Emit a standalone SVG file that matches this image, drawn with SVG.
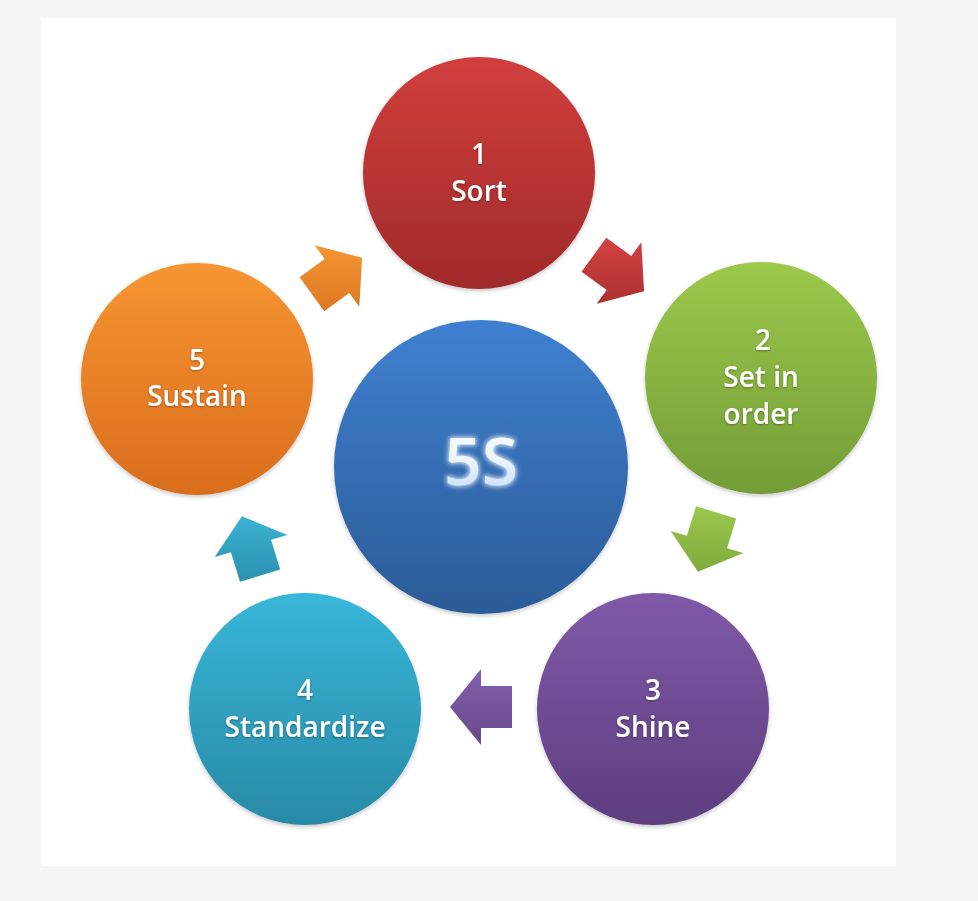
<svg xmlns="http://www.w3.org/2000/svg" width="978" height="901" viewBox="0 0 978 901">
<defs>
<style>
.lbl{font-family:"Open Sans","Liberation Sans",sans-serif;font-size:28px;font-weight:600;fill:#ffffff;text-anchor:middle;filter:url(#tsh)}
.big{font-family:"Open Sans","Liberation Sans",sans-serif;font-size:66px;font-weight:600;text-anchor:middle;fill:url(#gTxt);filter:url(#glow)}
.node circle{filter:url(#sh)}
</style>
<filter id="sh" x="-10%" y="-10%" width="120%" height="125%">
<feDropShadow dx="0" dy="2" stdDeviation="2" flood-color="#000" flood-opacity="0.22"/>
</filter>
<filter id="tsh" x="-10%" y="-20%" width="120%" height="150%">
<feDropShadow dx="0" dy="1" stdDeviation="1" flood-color="#000" flood-opacity="0.35"/>
</filter>
<filter id="glow" x="-30%" y="-30%" width="160%" height="160%">
<feMorphology in="SourceAlpha" operator="dilate" radius="1" result="d"/>
<feGaussianBlur in="d" stdDeviation="2.5" result="b"/>
<feFlood flood-color="#e8f3ff" flood-opacity="0.9"/>
<feComposite in2="b" operator="in" result="g"/>
<feMerge><feMergeNode in="g"/><feMergeNode in="SourceGraphic"/></feMerge>
</filter>
<linearGradient id="gTxt" x1="0" y1="0" x2="0" y2="1"><stop offset="0" stop-color="#ffffff"/><stop offset="0.55" stop-color="#eaf3fd"/><stop offset="1" stop-color="#b9d5f3"/></linearGradient>
<linearGradient id="gRed" x1="0" y1="0" x2="0" y2="1"><stop offset="0" stop-color="#d13e3d"/><stop offset="1" stop-color="#a02a2a"/></linearGradient>
<linearGradient id="gGreen" x1="0" y1="0" x2="0" y2="1"><stop offset="0" stop-color="#9dc84b"/><stop offset="1" stop-color="#739c37"/></linearGradient>
<linearGradient id="gPurple" x1="0" y1="0" x2="0" y2="1"><stop offset="0" stop-color="#8059a8"/><stop offset="1" stop-color="#5d3e7f"/></linearGradient>
<linearGradient id="gTeal" x1="0" y1="0" x2="0" y2="1"><stop offset="0" stop-color="#38b6d9"/><stop offset="1" stop-color="#288aa6"/></linearGradient>
<linearGradient id="gOrange" x1="0" y1="0" x2="0" y2="1"><stop offset="0" stop-color="#f89531"/><stop offset="1" stop-color="#d86d1d"/></linearGradient>
<linearGradient id="gBlue" x1="0" y1="0" x2="0" y2="1"><stop offset="0" stop-color="#3f80d0"/><stop offset="1" stop-color="#2c5b98"/></linearGradient>
<linearGradient id="aRed" gradientUnits="userSpaceOnUse" x1="0" y1="-42" x2="0" y2="42" gradientTransform="rotate(-36)"><stop offset="0" stop-color="#d64443"/><stop offset="1" stop-color="#a62e2e"/></linearGradient>
<linearGradient id="aGreen" gradientUnits="userSpaceOnUse" x1="0" y1="-42" x2="0" y2="42" gradientTransform="rotate(-107)"><stop offset="0" stop-color="#9fca4e"/><stop offset="1" stop-color="#79a63b"/></linearGradient>
<linearGradient id="aPurple" gradientUnits="userSpaceOnUse" x1="0" y1="-42" x2="0" y2="42" gradientTransform="rotate(-180)"><stop offset="0" stop-color="#8563ae"/><stop offset="1" stop-color="#664689"/></linearGradient>
<linearGradient id="aTeal" gradientUnits="userSpaceOnUse" x1="0" y1="-42" x2="0" y2="42" gradientTransform="rotate(107)"><stop offset="0" stop-color="#3cb9db"/><stop offset="1" stop-color="#2a8dab"/></linearGradient>
<linearGradient id="aOrange" gradientUnits="userSpaceOnUse" x1="0" y1="-42" x2="0" y2="42" gradientTransform="rotate(36)"><stop offset="0" stop-color="#f89a37"/><stop offset="1" stop-color="#dc7522"/></linearGradient>
<path id="arr" d="M-31,-21 L0,-21 L0,-38 L31,0 L0,38 L0,21 L-31,21 Z"/>
</defs>
<rect x="0" y="0" width="978" height="901" fill="#f5f5f5"/>
<rect x="41" y="18" width="855" height="848" fill="#ffffff"/>
<g id="connectors">
<use href="#arr" fill="url(#aRed)" transform="translate(619,273) rotate(36)"/>
<use href="#arr" fill="url(#aGreen)" transform="translate(707,542) rotate(107)"/>
<use href="#arr" fill="url(#aPurple)" transform="translate(481,707) rotate(180)"/>
<use href="#arr" fill="url(#aTeal)" transform="translate(251,546) rotate(-107)"/>
<use href="#arr" fill="url(#aOrange)" transform="translate(337,276) rotate(-36)"/>
</g>
<g id="n1" class="node"><circle cx="479" cy="173" r="116" fill="url(#gRed)"/><text class="lbl" x="479" y="164">1</text><text class="lbl" x="479" y="201">Sort</text></g>
<g id="n2" class="node"><circle cx="761" cy="378" r="116" fill="url(#gGreen)"/><text class="lbl" x="763" y="350">2</text><text class="lbl" x="761" y="387">Set in</text><text class="lbl" x="761" y="424">order</text></g>
<g id="n3" class="node"><circle cx="653" cy="709" r="116" fill="url(#gPurple)"/><text class="lbl" x="653" y="700">3</text><text class="lbl" x="653" y="737">Shine</text></g>
<g id="n4" class="node"><circle cx="305" cy="709" r="116" fill="url(#gTeal)"/><text class="lbl" x="305" y="700">4</text><text class="lbl" x="305" y="737">Standardize</text></g>
<g id="n5" class="node"><circle cx="197" cy="379" r="116" fill="url(#gOrange)"/><text class="lbl" x="197" y="370">5</text><text class="lbl" x="197" y="406">Sustain</text></g>
<g id="center" class="node"><circle cx="481" cy="467" r="147" fill="url(#gBlue)"/><text class="big" x="481" y="485">5S</text></g>
</svg>
